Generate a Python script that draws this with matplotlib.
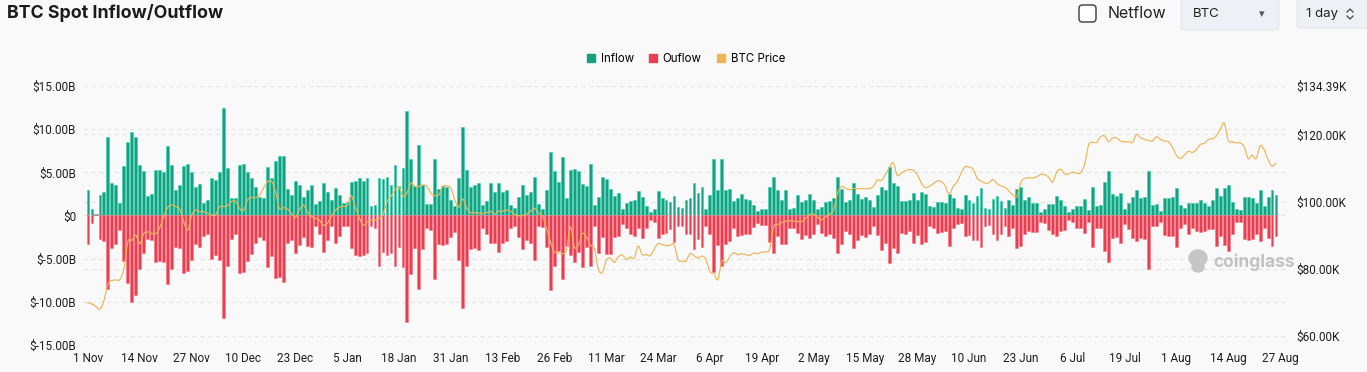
import matplotlib

matplotlib.use("Agg")
import matplotlib.pyplot as plt
import matplotlib.transforms as mtransforms
from matplotlib.patches import FancyBboxPatch, Patch, Ellipse
from matplotlib.lines import Line2D
import numpy as np
import pandas as pd

# daily values, 1 Nov 2024 onwards (billions USD / thousands USD)
inflow = [
    2.9, 0.8, 0.0, 2.4, 2.7, 9.1, 3.8, 3.5, 1.4, 5.7, 8.5, 9.7, 9.1, 5.8, 5.1, 2.3, 2.5, 5.3, 5.3, 5.0,
    8.1, 5.8, 3.0, 3.5, 5.7, 6.0, 5.0, 3.3, 3.7, 1.5, 1.8, 4.4, 4.1, 5.0, 12.4, 5.5, 2.0,
    2.0, 5.8, 6.0, 5.0, 4.3, 3.3, 2.2, 2.0, 5.6, 4.3, 6.3, 6.9, 6.9, 3.1, 2.4, 4.0, 3.5, 2.2, 3.0, 3.5,
    1.3, 1.7, 3.8, 2.7, 1.8, 3.2, 2.4, 1.5, 1.6, 3.9, 4.0, 4.3, 4.0, 4.3, 1.1, 1.2, 4.3, 4.2,
    4.5, 3.5, 5.8, 3.4, 5.5, 12.1, 6.5, 3.4, 8.2, 3.5, 1.3, 1.3, 6.5, 3.1, 3.4, 3.3, 1.8, 1.1, 4.3, 10.2,
    5.3, 3.3, 3.5, 3.8, 1.2, 1.7, 3.8, 2.7, 3.8, 2.7, 3.0, 1.2, 0.9, 2.2, 3.5, 2.4, 2.7, 4.5,
    1.3, 0.8, 3.0, 7.3, 5.2, 3.9, 6.8, 2.0, 5.3, 5.4, 5.2, 3.7, 3.4, 6.0, 1.2, 2.2, 4.5, 4.2, 3.1, 2.3,
    2.6, 0.8, 1.4, 1.7, 1.8, 2.8, 2.2, 1.1, 0.4, 0.8, 2.8, 2.0, 1.8, 1.6, 2.3, 1.0, 0.9,
    1.8, 2.0, 3.8, 2.6, 3.3, 0.8, 2.4, 6.5, 3.0, 6.5, 2.9, 3.1, 1.7, 2.0, 2.5, 1.9, 1.8, 1.2, 0.5, 0.8,
    0.8, 3.3, 4.5, 3.0, 1.8, 3.0, 0.8, 0.9, 2.4, 1.6, 1.8, 2.5, 1.8, 0.8, 1.0, 1.6, 1.7, 2.0,
    4.5, 3.1, 1.6, 1.8, 3.8, 2.5, 1.9, 2.1, 1.8, 1.0, 2.4, 3.3, 2.9, 5.6, 3.8, 3.4, 1.7, 1.7, 1.8, 2.6,
    1.8, 2.7, 2.5, 1.1, 1.0, 1.6, 1.6, 1.5, 2.5, 2.0, 0.9, 0.8, 2.4, 1.8, 1.5, 2.3, 3.2,
    0.9, 0.8, 1.9, 2.3, 1.7, 0.9, 1.8, 1.2, 3.1, 3.3, 1.8, 2.1, 1.4, 1.4, 0.4, 0.8, 1.3, 1.3, 2.3, 1.8,
    1.1, 0.4, 0.7, 1.1, 1.1, 1.9, 0.6, 3.3, 1.1, 1.2, 3.9, 5.2, 2.5, 2.3, 2.6, 0.8, 1.5, 2.2,
    3.0, 2.0, 2.2, 5.2, 1.2, 1.3, 0.5, 2.0, 2.0, 2.2, 3.2, 1.2, 0.9, 1.4, 1.5, 1.4, 1.8, 1.4, 1.1, 1.8,
    3.2, 2.3, 3.2, 3.5, 1.6, 0.7, 0.6, 2.1, 2.2, 2.0, 1.5, 2.9, 1.1, 2.2, 2.9, 2.4,
]
outflow = [
    3.3, 0.9, 0.0, 2.7, 2.9, 8.5, 3.8, 3.3, 1.7, 5.3, 7.8, 10.0, 9.2, 6.2, 4.3, 2.7, 2.8, 5.4, 5.3, 5.4,
    7.9, 6.2, 3.7, 3.8, 6.7, 6.4, 5.2, 3.3, 3.7, 2.4, 2.1, 5.0, 4.6, 5.2, 11.9, 5.8, 2.7,
    2.2, 6.7, 6.6, 5.3, 4.5, 3.2, 2.5, 2.8, 6.0, 4.7, 7.2, 7.1, 7.7, 3.2, 2.8, 4.4, 3.4, 2.5, 3.5, 3.7,
    1.2, 2.1, 4.2, 2.8, 1.2, 3.2, 2.4, 1.2, 1.2, 3.8, 4.6, 4.7, 4.6, 4.4, 1.2, 1.4, 5.8, 4.2,
    4.6, 4.4, 5.9, 3.7, 6.0, 12.3, 6.8, 3.8, 8.5, 3.9, 1.4, 1.7, 7.3, 3.3, 3.4, 3.3, 2.5, 1.9, 5.1, 10.7,
    5.9, 3.9, 3.8, 4.0, 1.5, 2.2, 3.2, 3.2, 4.2, 3.2, 3.0, 1.4, 1.2, 2.5, 3.9, 2.8, 3.2, 5.2,
    1.2, 1.3, 3.7, 8.6, 5.8, 4.1, 7.4, 3.5, 4.6, 5.4, 4.2, 6.0, 3.7, 5.8, 1.2, 4.4, 2.5, 4.5, 4.5, 2.5,
    2.4, 1.0, 1.5, 2.1, 2.4, 1.4, 2.6, 1.4, 0.5, 0.8, 2.6, 2.2, 2.0, 1.6, 3.1, 1.2, 1.2,
    2.1, 2.1, 3.9, 2.7, 3.7, 1.2, 2.2, 6.5, 3.4, 5.9, 3.3, 3.0, 1.4, 2.4, 2.3, 2.1, 2.2, 1.3, 0.9, 1.1,
    1.1, 3.1, 4.3, 2.4, 3.3, 3.3, 1.4, 1.4, 2.0, 2.7, 2.3, 2.6, 2.1, 1.0, 2.0, 2.4, 2.1, 2.6,
    4.4, 3.3, 1.8, 2.1, 3.8, 2.8, 2.3, 2.5, 2.1, 1.2, 2.3, 4.0, 3.2, 5.5, 3.8, 4.3, 2.0, 2.1, 1.8, 3.2,
    2.3, 3.3, 3.1, 1.2, 1.4, 2.0, 1.9, 1.8, 3.5, 1.4, 1.0, 0.9, 2.4, 2.3, 2.8, 2.8, 3.6,
    1.2, 1.1, 2.1, 2.8, 2.1, 1.2, 2.4, 1.5, 3.8, 3.5, 2.2, 1.8, 1.9, 1.9, 0.7, 0.9, 1.7, 2.1, 2.4, 1.8,
    1.7, 0.5, 0.8, 1.5, 1.5, 2.0, 0.8, 3.6, 1.4, 1.4, 4.1, 5.4, 2.6, 2.5, 3.2, 1.0, 1.6, 2.6,
    3.0, 2.6, 2.7, 6.2, 1.2, 1.2, 0.7, 2.3, 2.4, 2.4, 3.6, 1.4, 1.0, 2.1, 1.5, 1.8, 1.9, 1.8, 1.6, 1.6,
    3.5, 2.4, 3.4, 4.1, 2.1, 0.7, 0.8, 2.7, 2.8, 2.7, 2.2, 3.0, 1.4, 2.6, 3.5, 2.4,
]
price = [
    69.9, 69.5, 68.8, 68.0, 70.5, 75.5, 76.5, 76.7, 76.8, 80.0, 88.0, 88.5, 90.0, 87.5, 90.5, 91.0, 90.5,
    90.5, 92.3, 95.5, 98.3, 99.0, 98.5, 97.8, 94.0, 91.5, 96.0, 97.5, 97.0, 97.0, 96.5, 96.0, 96.0, 98.5,
    98.5, 98.8, 100.0,
    100.1, 98.0, 97.3, 100.5, 101.2, 101.2, 101.8, 104.0, 105.8, 106.1, 103.1, 98.0, 98.2, 97.8, 96.5,
    95.3, 97.5, 99.0, 97.0, 95.6, 95.0, 94.5, 93.0, 93.5, 95.5, 97.3, 98.3, 98.6, 98.8, 101.8, 98.5, 95.3,
    93.0, 93.8, 94.5, 94.4, 95.0, 96.0,
    100.0, 101.5, 103.5, 104.3, 101.6, 102.5, 105.5, 104.5, 104.5, 105.0, 104.5, 102.5, 101.8, 102.0,
    104.5, 104.7, 104.0, 100.5, 98.3, 100.8, 98.0, 96.7, 96.7, 96.6, 96.5, 96.7, 97.1, 96.3, 97.1, 97.1,
    97.5, 97.1, 96.3, 95.8, 95.8, 96.3, 97.1, 98.0,
    96.6, 95.8, 92.0, 88.0, 85.0, 84.7, 84.5, 85.5, 92.5, 86.5, 87.0, 90.5, 89.5, 87.0, 86.2, 80.0, 78.9,
    82.5, 83.2, 81.9, 83.5, 84.1, 82.8, 83.5, 83.2, 86.8, 84.2, 84.3, 83.9, 85.8, 87.5, 87.2, 86.9, 87.0,
    87.3, 82.8, 82.3,
    82.3, 84.5, 83.9, 83.2, 83.8, 82.7, 79.2, 78.5, 76.8, 82.3, 81.8, 83.7, 84.8, 84.2, 84.5, 84.2, 84.0,
    84.7, 84.5, 85.0, 85.0, 86.0, 92.5, 93.2, 93.8, 94.1, 94.3, 94.2, 94.1, 94.1, 95.0, 96.1, 96.3, 95.3,
    94.6, 95.5, 96.3, 97.5,
    102.5, 104.5, 104.0, 103.5, 103.9, 103.8, 103.9, 103.8, 103.9, 104.5, 106.4, 106.3, 108.0, 110.2,
    111.5, 107.8, 108.5, 109.2, 109.5, 109.3, 108.0, 105.6, 104.2, 104.5, 105.3, 106.1, 106.0, 104.7,
    102.1, 104.5, 105.8, 108.5, 110.4, 110.2, 109.7, 107.0, 106.1,
    105.5, 105.6, 106.6, 105.3, 104.7, 104.3, 103.1, 102.0, 101.5, 105.8, 106.9, 107.1, 107.0, 107.4,
    108.1, 108.0, 107.2, 105.8, 108.8, 109.6, 108.2, 108.2, 108.8, 108.4, 108.6, 111.2, 116.9, 117.6,
    117.6, 119.3, 119.5, 117.8, 118.9, 119.0, 118.0, 117.8, 117.8, 117.6,
    120.0, 119.0, 118.5, 118.2, 118.0, 119.3, 118.5, 118.0, 117.8, 116.2, 113.8, 112.8, 113.8, 115.0,
    114.6, 115.4, 117.0, 117.3, 118.5, 118.7, 119.5, 121.5, 123.3, 118.2, 117.8, 117.5, 117.5, 116.3,
    112.8, 113.8, 112.8, 116.6, 115.5, 112.5, 110.5, 111.4,
]

start = pd.Timestamp("2024-11-01")
tick_dates = pd.date_range(start, "2025-08-27", freq="13D")
tick_labels = [f"{d.day} {d:%b}" for d in tick_dates]
left_ticks = [-15, -10, -5, 0, 5, 10, 15]
right_ticks = [60, 80, 100, 120, 134.39]
right_lim = (57.33, 134.39)

C_IN, C_IN_EDGE = "#169f80", "#45d3b0"
C_OUT, C_OUT_EDGE = "#e93d50", "#f77f8c"
C_PRICE = "#edb556"
BG = "#f9f9f9"
GRID = "#e6e6e6"


def smooth(xs, ys, n=8):
    """Catmull-Rom pass through the daily points, only for drawing."""
    xs = np.asarray(xs, float)
    ys = np.asarray(ys, float)
    p = np.concatenate([[ys[0]], ys, [ys[-1]]])
    t = np.linspace(0, 1, n, endpoint=False)
    out_x, out_y = [], []
    for i in range(len(ys) - 1):
        p0, p1, p2, p3 = p[i], p[i + 1], p[i + 2], p[i + 3]
        seg = 0.5 * ((2 * p1) + (-p0 + p2) * t + (2 * p0 - 5 * p1 + 4 * p2 - p3) * t ** 2
                     + (-p0 + 3 * p1 - 3 * p2 + p3) * t ** 3)
        out_x.append(xs[i] + t * (xs[i + 1] - xs[i]))
        out_y.append(seg)
    out_x.append([xs[-1]])
    out_y.append([ys[-1]])
    return np.concatenate(out_x), np.concatenate(out_y)


W, H = 1367, 372
fig = plt.figure(figsize=(W / 100, H / 100), dpi=100, facecolor=BG)
ax = fig.add_axes([83 / W, 1 - 345 / H, (1288 - 83) / W, (345 - 86) / H])
ax.set_facecolor(BG)
px = mtransforms.IdentityTransform()  # pixel coords, origin bottom-left

x = np.arange(len(inflow))
inflow = np.array(inflow)
outflow = np.array(outflow)
ax.bar(x, inflow, width=0.72, color=C_IN, edgecolor=C_IN_EDGE, linewidth=0.5, zorder=2)
ax.bar(x, -outflow, width=0.72, color=C_OUT, edgecolor=C_OUT_EDGE, linewidth=0.5, zorder=2)
empty = (inflow == 0) & (outflow == 0)
ax.plot(x[empty], np.zeros(empty.sum()), "_", color="#999999", ms=5, mew=1.2, zorder=3)

ax.set_ylim(-15, 15)
ax.set_yticks(left_ticks)
ax.set_yticklabels(["$0" if v == 0 else f"${v:.2f}B" for v in left_ticks])
ax.set_xlim(-1.25, 301)
tick_pos = [(d - start).days for d in tick_dates]
ax.set_xticks(tick_pos)
ax.set_xticklabels(tick_labels)
ax.tick_params(axis="y", length=0, pad=5, labelsize=8.5, labelcolor="#1e1e1e")
ax.tick_params(axis="x", length=0, pad=5, labelsize=8.5, labelcolor="#1e1e1e")
for lab in ax.get_xticklabels() + ax.get_yticklabels():
    lab.set_family("Roboto")

ax2 = ax.twinx()
ax2.set_ylim(*right_lim)
sx, sy = smooth(x, price)
ax2.plot(sx, sy, color=C_PRICE, lw=0.85, zorder=3)
ax2.set_yticks(right_ticks)
ax2.set_yticklabels([f"${v:.2f}K" for v in right_ticks])
ax2.tick_params(axis="y", length=0, pad=6, labelsize=8.5, labelcolor="#1e1e1e")
for lab in ax2.get_yticklabels():
    lab.set_family("Roboto")

# grid lines of both axes, kept behind the bars
for v in left_ticks:
    ax.axhline(v, color=GRID, lw=0.8, ls=(0, (4, 3)), zorder=0)
blend = mtransforms.blended_transform_factory(ax.transAxes, ax2.transData)
for v in right_ticks:
    ax.plot([0, 1], [v, v], transform=blend, color=GRID, lw=0.8, ls=(0, (4, 3)), zorder=0)

for a in (ax, ax2):
    for s in a.spines.values():
        s.set_visible(False)

# watermark
fig.text(1213 / W, 1 - 262 / H, "coinglass", fontsize=12.5, fontweight="bold",
         color="#c2c2c2", family="Inter", va="center", ha="left")
fig.patches.append(Ellipse((1198, H - 258), 18, 16, transform=px, color="#c6c6c6"))
fig.patches.append(Ellipse((1198, H - 267), 12, 10, transform=px, color="#c6c6c6"))

# legend
handles = [Patch(color=C_IN), Patch(color=C_OUT), Patch(color=C_PRICE)]
fig.legend(handles, ["Inflow", "Ouflow", "BTC Price"], loc="center",
           bbox_to_anchor=(686 / W, 1 - 59 / H), ncol=3, frameon=False,
           handlelength=0.7, handleheight=0.7, handletextpad=0.5,
           columnspacing=1.3, prop={"family": "Inter", "size": 8.3})

# header
fig.text(7 / W, 1 - 13 / H, "BTC Spot Inflow/Outflow", fontsize=12.8, fontweight="bold",
         color="#1b1b1f", family="Inter", va="center", ha="left")


def box(x0, y0, w, h, r, face, edge, lw):
    fig.patches.append(FancyBboxPatch((x0, H - y0 - h), w, h,
                                      boxstyle=f"round,pad=0,rounding_size={r}",
                                      transform=px, facecolor=face, edgecolor=edge, lw=lw))


box(1079, 5, 17, 17, 3.5, "white", "#3a3a3a", 1.0)
fig.text(1108 / W, 1 - 14 / H, "Netflow", fontsize=11.5, color="#222222",
         family="Inter", va="center", ha="left")

box(1181, -4, 98, 34, 4, "#edf0f4", "#e3e6ea", 0.8)
fig.text(1193 / W, 1 - 14 / H, "BTC", fontsize=9.5, color="#222222",
         family="Inter", va="center", ha="left")
fig.text(1262 / W, 1 - 14 / H, "\u25be", fontsize=8, color="#555555",
         va="center", ha="center")

box(1297, -4, 76, 32, 4, "#edf0f4", "#e3e6ea", 0.8)
fig.text(1306 / W, 1 - 14 / H, "1 day", fontsize=9.5, color="#222222",
         family="Inter", va="center", ha="left")
cx = 1350
for sgn in (1, -1):
    ys = [14 - sgn * 2, 14 - sgn * 5, 14 - sgn * 2]
    fig.lines.append(Line2D([cx - 3, cx, cx + 3], [H - y for y in ys],
                            transform=px, color="#444444", lw=0.9))

fig.savefig("out.png", dpi=100, facecolor=BG)
